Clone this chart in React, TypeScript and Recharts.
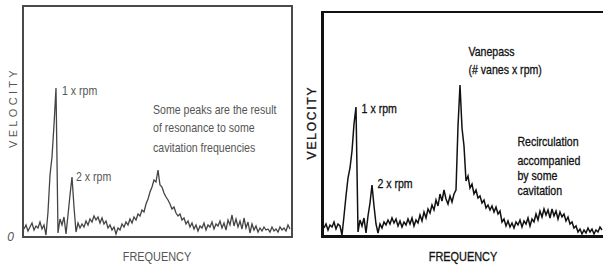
import { LineChart, Line, XAxis, YAxis, ReferenceDot, Label } from 'recharts';

// Spectrum amplitudes, one value every 2 px of frequency
const cavitationVelocity = [
  8, 12, 6, 10, 14, 7, 11, 9, 15, 8,
  12, 2, 25, 62, 80, 112, 149, 4, 18, 12,
  20, 3, 22, 42, 60, 30, 5, 14, 9, 13,
  10, 16, 12, 18, 15, 21, 17, 20, 14, 19,
  13, 16, 9, 12, 7, 10, 3, 9, 7, 13,
  10, 15, 12, 18, 14, 20, 17, 23, 21, 27,
  25, 33, 38, 45, 50, 57, 55, 67, 52, 50,
  44, 40, 37, 33, 28, 30, 24, 21, 23, 17,
  19, 13, 16, 10, 14, 8, 12, 6, 11, 9,
  14, 7, 12, 10, 15, 8, 13, 11, 16, 9,
  14, 7, 17, 12, 22, 11, 18, 10, 16, 8,
  19, 9, 15, 4, 13, 7, 11, 5, 9, 6,
  10, 7, 8, 5, 10, 6, 8, 5, 10, 7,
  9, 6, 12, 8,
];

const recirculationVelocity = [
  8, 12, 6, 11, 9, 14, 7, 12, 10, 1,
  20, 40, 58, 68, 85, 112, 129, 4, 16, 10,
  18, 3, 20, 33, 51, 30, 12, 3, 12, 8,
  14, 11, 16, 12, 18, 13, 17, 10, 15, 9,
  14, 11, 17, 12, 18, 10, 16, 13, 21, 15,
  24, 18, 27, 23, 31, 26, 36, 30, 42, 35,
  46, 37, 32, 40, 34, 42, 46, 110, 151, 108,
  90, 55, 60, 48, 52, 42, 46, 38, 40, 33,
  36, 28, 31, 26, 30, 24, 29, 22, 25, 14,
  17, 10, 15, 9, 13, 8, 14, 11, 16, 9,
  15, 12, 18, 10, 17, 14, 22, 16, 25, 19,
  27, 21, 26, 18, 27, 20, 25, 17, 24, 19,
  22, 15, 19, 12, 14, 8, 10, 4, 7, 2,
  6, 3, 8, 4, 7, 2, 6, 4, 9, 6,
];

// annotations, anchored in the same bin / amplitude units as the traces
const cavitationNotes = [
  { text: '1 x rpm', bin: 19, level: 147 },
  { text: '2 x rpm', bin: 26, level: 61 },
  { text: 'Some peaks are the result', bin: 64.5, level: 128 },
  { text: 'of resonance to some', bin: 64.5, level: 110 },
  { text: 'cavitation frequencies', bin: 64.5, level: 90 },
];

const recirculationNotes = [
  { text: '1 x rpm', bin: 18.8, level: 128 },
  { text: '2 x rpm', bin: 26.7, level: 53 },
  { text: 'Vanepass', bin: 72.2, level: 185 },
  { text: '(# vanes x rpm)', bin: 72.2, level: 167 },
  { text: 'Recirculation', bin: 96.7, level: 95 },
  { text: 'accompanied', bin: 96.7, level: 76 },
  { text: 'by some', bin: 96.7, level: 61 },
  { text: 'cavitation', bin: 96.7, level: 46 },
];

const FONT = "'Liberation Sans', Arial, sans-serif";
const SQUEEZE = 0.84; // the scanned lettering is a condensed face

// condensed text drawn at (x, y); anchor 'start' or 'middle'
const narrow = (text: string, x: number, y: number, fill: string, size: number, weight: number, anchor = 'start') => (
  <text
    transform={`translate(${x} ${y}) scale(${SQUEEZE} 1)`}
    textAnchor={anchor}
    dominantBaseline="central"
    fill={fill}
    stroke={weight > 0 ? fill : 'none'}
    strokeWidth={weight}
    fontSize={size}
    fontFamily={FONT}
  >
    {text}
  </text>
);

const toRows = (values: number[]) => values.map((velocity, bin) => ({ bin, velocity }));

interface SpectrumProps {
  values: number[];
  notes: { text: string; bin: number; level: number }[];
  margin: { top: number; right: number; bottom: number; left: number };
  axisHeight: number;
  xDomain: [number, number];
  yMax: number;
  ink: string;
  textInk: string;
  textWeight: number;
  lineWidth: number;
  velocityAt: { x: number; y: number; spacing: number; size: number };
  frequencyAt: { x: number; y: number };
  showZero: boolean;
  width: number;
  frame: React.CSSProperties;
}

function Spectrum(p: SpectrumProps) {
  return (
    <div style={{ position: 'relative', width: p.width, height: 268 }}>
      <LineChart width={p.width} height={268} data={toRows(p.values)} margin={p.margin}>
        <XAxis
          dataKey="bin"
          type="number"
          domain={p.xDomain}
          allowDataOverflow
          height={p.axisHeight}
          tick={false}
          tickLine={false}
          axisLine={false}
        >
          <Label content={() => narrow('FREQUENCY', p.frequencyAt.x, p.frequencyAt.y, p.textInk, 13, p.textWeight, 'middle')} />
        </XAxis>
        <YAxis
          type="number"
          domain={[0, p.yMax]}
          allowDataOverflow
          width={20}
          ticks={[0]}
          tick={p.showZero ? { fill: p.textInk, fontSize: 12, fontStyle: 'italic', fontFamily: FONT } : false}
          tickLine={false}
          tickMargin={3}
          axisLine={false}
        >
          <Label
            content={() => (
              <text
                x={p.velocityAt.x}
                y={p.velocityAt.y}
                transform={`rotate(-90 ${p.velocityAt.x} ${p.velocityAt.y})`}
                textAnchor="middle"
                dominantBaseline="central"
                fill={p.textInk}
                stroke={p.textWeight > 0 ? p.textInk : 'none'}
                strokeWidth={p.textWeight}
                fontSize={p.velocityAt.size}
                fontFamily={FONT}
                letterSpacing={p.velocityAt.spacing}
              >
                VELOCITY
              </text>
            )}
          />
        </YAxis>
        <Line dataKey="velocity" type="linear" stroke={p.ink} strokeWidth={p.lineWidth} dot={false} isAnimationActive={false} />
        {p.notes.map((n) => (
          <ReferenceDot
            key={n.text}
            x={n.bin}
            y={n.level}
            r={0}
            fill="none"
            stroke="none"
            label={{
              content: (lp: any) => narrow(n.text, lp.viewBox.x, lp.viewBox.y, p.textInk, 12.6, p.textWeight),
            }}
          />
        ))}
      </LineChart>
      {/* box frame round the plot area */}
      <div style={{ position: 'absolute', boxSizing: 'border-box', pointerEvents: 'none', ...p.frame }} />
    </div>
  );
}

export default function App() {
  return (
    <div style={{ position: 'absolute', left: 0, top: 0, width: 603, height: 268, background: '#fff', overflow: 'hidden' }}>
      <div style={{ position: 'absolute', left: 0, top: 0 }}>
        <Spectrum
          width={300}
          values={cavitationVelocity}
          notes={cavitationNotes}
          margin={{ top: 6, right: 9, bottom: 0, left: 3 }}
          axisHeight={31}
          xDomain={[-0.5, 133.5]}
          yMax={231}
          ink="#444"
          textInk="#555"
          textWeight={0}
          lineWidth={1.3}
          velocityAt={{ x: 13, y: 107.5, spacing: 3.3, size: 11 }}
          frequencyAt={{ x: 157, y: 257 }}
          showZero
          frame={{ left: 22, top: 5, width: 271, height: 233, border: '2px solid #4a4a4a', borderBottomWidth: 2.5 }}
        />
      </div>
      <div style={{ position: 'absolute', left: 300, top: 0 }}>
        <Spectrum
          width={303}
          values={recirculationVelocity}
          notes={recirculationNotes}
          margin={{ top: 12, right: 0, bottom: 0, left: 2 }}
          axisHeight={32}
          xDomain={[-1, 139.5]}
          yMax={224}
          ink="#111"
          textInk="#111"
          textWeight={0.3}
          lineWidth={1.5}
          velocityAt={{ x: 12, y: 122.5, spacing: 1.8, size: 12 }}
          frequencyAt={{ x: 163, y: 257 }}
          showZero={false}
          frame={{
            left: 20.5,
            top: 11,
            width: 290,
            height: 227,
            borderLeft: '3px solid #111',
            borderBottom: '3px solid #111',
            borderTop: '2px solid #111',
          }}
        />
      </div>
    </div>
  );
}
